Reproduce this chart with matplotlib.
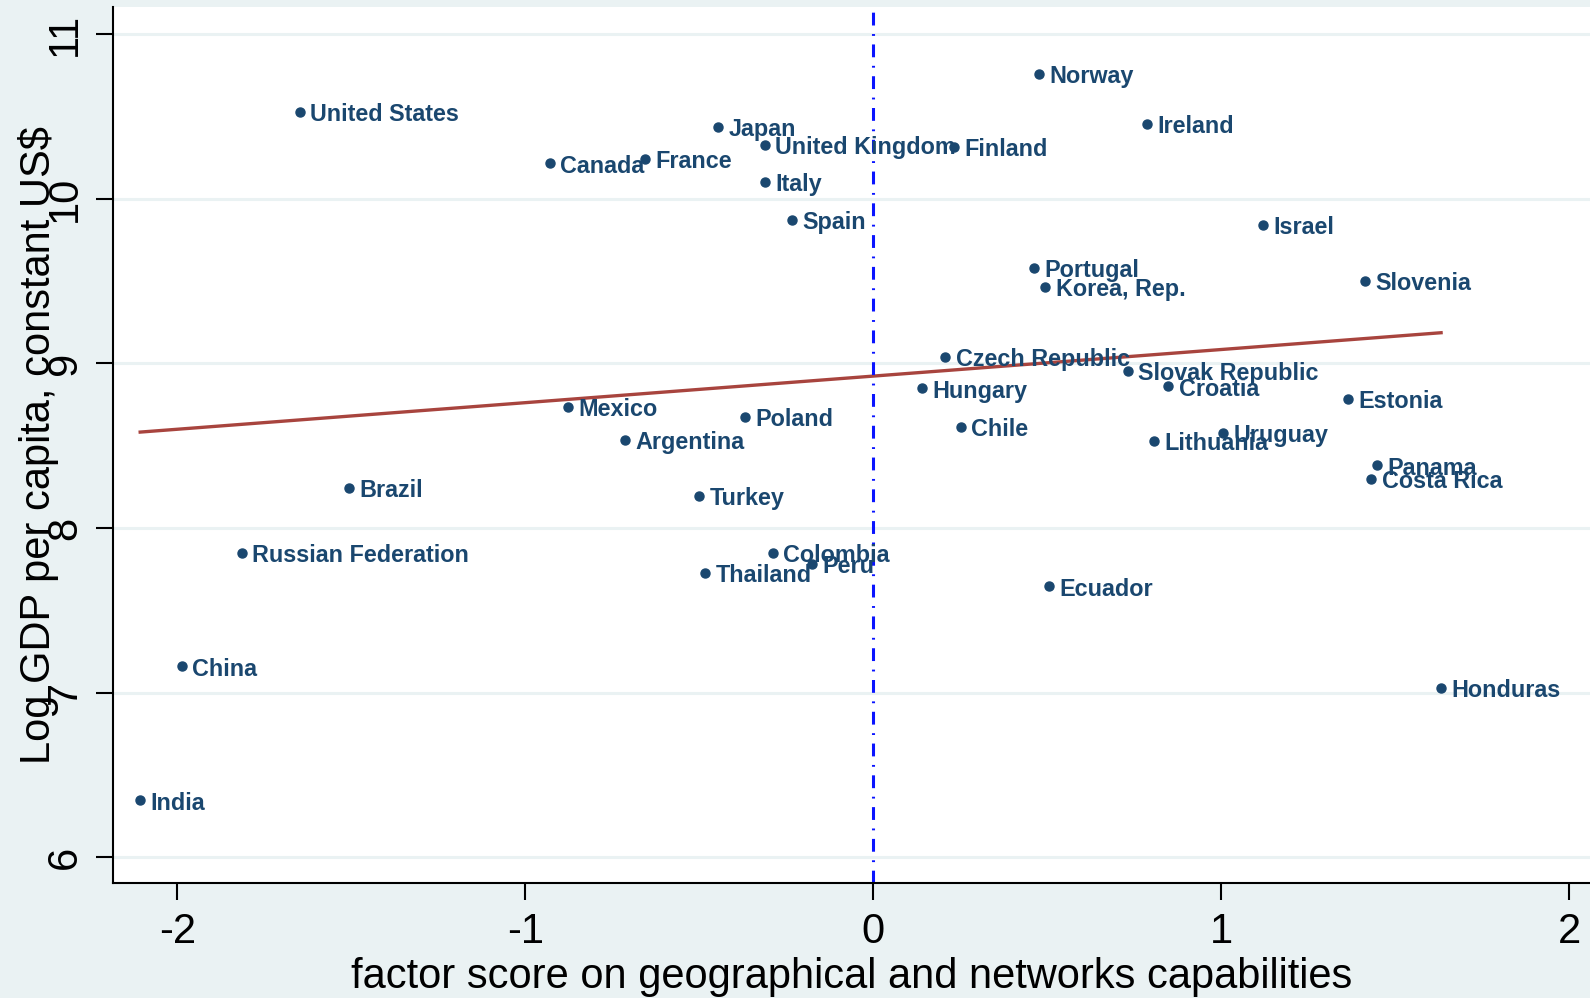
import matplotlib.pyplot as plt
import numpy as np

plt.rcParams['font.family'] = ['Liberation Sans', 'DejaVu Sans']
plt.rcParams['axes.unicode_minus'] = False

# data
countries = ['United States', 'Japan', 'Canada', 'France', 'United Kingdom', 'Italy',
             'Spain', 'Finland', 'Norway', 'Ireland', 'Israel', 'Portugal', 'Korea, Rep.',
             'Slovenia', 'Czech Republic', 'Slovak Republic', 'Hungary', 'Croatia',
             'Estonia', 'Chile', 'Lithuania', 'Uruguay', 'Panama', 'Costa Rica',
             'Honduras', 'Mexico', 'Poland', 'Argentina', 'Turkey', 'Brazil',
             'Russian Federation', 'Colombia', 'Peru', 'Thailand', 'Ecuador', 'China', 'India']
factor = [-1.649, -0.446, -0.929, -0.656, -0.312, -0.312,
          -0.233, 0.233, 0.475, 0.787, 1.119, 0.463, 0.495,
          1.413, 0.207, 0.731, 0.140, 0.848,
          1.364, 0.251, 0.807, 1.005, 1.448, 1.431,
          1.632, -0.877, -0.370, -0.714, -0.501, -1.506,
          -1.815, -0.288, -0.175, -0.484, 0.504, -1.987, -2.107]
log_gdp = [10.531, 10.439, 10.217, 10.242, 10.328, 10.106,
           9.872, 10.316, 10.760, 10.457, 9.841, 9.582, 9.465,
           9.502, 9.039, 8.953, 8.848, 8.861,
           8.787, 8.614, 8.528, 8.577, 8.380, 8.300,
           7.030, 8.737, 8.676, 8.534, 8.195, 8.244,
           7.850, 7.850, 7.782, 7.726, 7.646, 7.159, 6.345]

# fitted line ends
fit_x = [-2.107, 1.632]
fit_y = [8.583, 9.187]

x_ticks = [-2, -1, 0, 1, 2]
y_ticks = [6, 7, 8, 9, 10, 11]

bg = '#EAF2F3'
navy = '#1A476F'

fig = plt.figure(figsize=(15.9, 9.98), dpi=100, facecolor=bg)
ax = fig.add_axes([0.0711, 0.1157, 0.9289, 0.8773])
ax.set_facecolor('white')

for yt in y_ticks:
    ax.axhline(yt, color=bg, lw=2.2, zorder=0)

ax.plot(fit_x, fit_y, color='#A8443E', lw=2.4, zorder=2)
ax.axvline(0, color='#0A14FF', lw=2.2, linestyle=(0, (4.2, 2.8, 0.6, 2.8)), zorder=2)

ax.plot(factor, log_gdp, 'o', color=navy, ms=6.5, zorder=3)
for c, xv, yv in zip(countries, factor, log_gdp):
    ax.annotate(c, (xv, yv), xytext=(7.5, -2), textcoords='offset points',
                va='center', ha='left', fontsize=16.8, fontweight='bold',
                color=navy, zorder=4)

ax.set_xlim(-2.185, 2.06)
ax.set_ylim(5.845, 11.167)
ax.set_xticks(x_ticks)
ax.set_yticks(y_ticks)
ax.set_yticklabels([str(v) for v in y_ticks], rotation=90, va='center')

for s in ['top', 'right']:
    ax.spines[s].set_visible(False)
for s in ['left', 'bottom']:
    ax.spines[s].set_linewidth(1.5)

ax.tick_params(axis='both', length=12, width=1.5, labelsize=30)
ax.tick_params(axis='y', pad=8)
ax.tick_params(axis='x', pad=9)

ax.set_xlabel('factor score on geographical and networks capabilities', fontsize=30, labelpad=4)
ax.set_ylabel('Log GDP per capita, constant US$', fontsize=30, labelpad=-10)

fig.savefig('out.png', dpi=100, facecolor=bg)
